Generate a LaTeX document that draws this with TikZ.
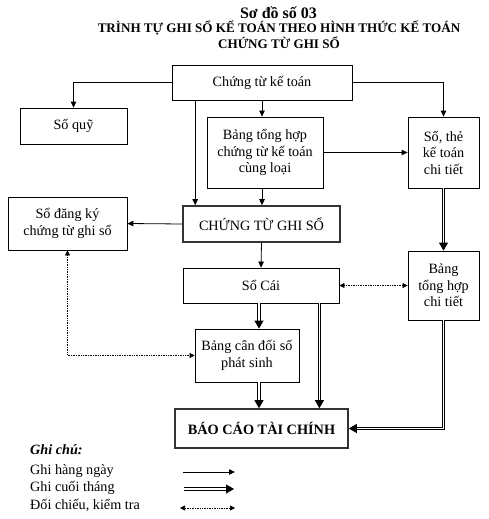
\documentclass[tikz,border=0pt]{standalone}
\usepackage{fontspec}
\setmainfont{Liberation Serif}
\usetikzlibrary{arrows.meta}

\begin{document}
\begin{tikzpicture}[x=1pt,y=-1pt,
  box/.style={draw,line width=0.8pt,align=center,inner sep=0pt,font=\fontsize{14.2}{16.5}\selectfont},
  mainbox/.style={box,line width=1.6pt,draw=black!80},
  arr/.style={line width=0.8pt,-{Triangle[length=6pt,width=5.5pt]}},
  dbl/.style={double,double distance=1.6pt,line width=0.8pt,-{Triangle[length=8pt,width=9pt]}},
  chk/.style={line width=0.7pt,densely dotted,{Triangle[length=5pt,width=5pt]}-{Triangle[length=5pt,width=5pt]}},
  legend/.style={anchor=west,inner sep=0pt,font=\fontsize{14.2}{16}\selectfont}]
\useasboundingbox (0,0) rectangle (489,519);
\node[font=\bfseries\fontsize{16}{18}\selectfont] (t1) at (278.5,13) {Sơ đồ số 03};
\node[font=\bfseries\fontsize{13.1}{15}\selectfont] (t2) at (279,28) {TRÌNH TỰ GHI SỔ KẾ TOÁN THEO HÌNH THỨC KẾ TOÁN};
\node[font=\bfseries\fontsize{13.1}{15}\selectfont] (t3) at (279,43) {CHỨNG TỪ GHI SỔ};
\node[box,minimum width=180,minimum height=35] (ctkt) at (262,82.5) {Chứng từ kế toán};
\node[box,minimum width=107,minimum height=36] (soquy) at (73.5,126) {Sổ quỹ};
\node[box,minimum width=116,minimum height=71] (bth) at (265,152.5) {Bảng tổng hợp\\chứng từ kế toán\\cùng loại};
\node[box,minimum width=71,minimum height=71] (sothe) at (443.5,152.5) {Sổ, thẻ\\kế toán\\chi tiết};
\node[box,minimum width=119,minimum height=53] (sodk) at (67.5,223.5) {Sổ đăng ký\\chứng từ ghi sổ};
\node[mainbox,minimum width=157,minimum height=36] (ctgs) at (261.5,224) {CHỨNG TỪ GHI SỔ};
\node[box,minimum width=156,minimum height=35] (socai) at (261,285.5) {Sổ Cái};
\node[box,minimum width=71,minimum height=69] (bthct) at (443.5,285.5) {Bảng\\tổng hợp\\chi tiết};
\node[box,minimum width=104,minimum height=53] (bcd) at (247,355.5) {Bảng cân đối số\\phát sinh};
\node[mainbox,minimum width=173,minimum height=39,font=\bfseries\fontsize{14.3}{16}\selectfont] (bctc) at (261.5,428.5) {BÁO CÁO TÀI CHÍNH};
\coordinate (c1) at ([xshift=13pt]ctgs.north west);
\coordinate (c2) at ([xshift=-2pt]socai.south);
\coordinate (c3) at ([xshift=-20pt]socai.south east);
\draw[arr] (ctkt.west) -| (soquy.north);
\draw[arr] (ctkt.east) -| (sothe.north);
\draw[arr] (ctkt.south) -- (ctkt.south |- bth.north);
\draw[arr] (ctkt.south -| c1) -- (c1);
\draw[arr] (ctkt.south |- bth.south) -- (ctkt.south |- ctgs.north);
\draw[arr] (bth.east) -- (sothe.west);
\draw[arr] (ctgs.west) -- (sodk.east);
\draw[arr] (ctgs.south) -- (socai.north);
\draw[dbl] (sothe.south) -- (bthct.north);
\draw[dbl] (c2) -- (c2 |- bcd.north);
\draw[dbl] (c2 |- bcd.south) -- (c2 |- bctc.north);
\draw[dbl] (c3) -- (c3 |- bctc.north);
\draw[dbl] (bthct.south) |- (bctc.east);
\draw[chk] (socai.east) -- (bthct.west);
\draw[chk] (sodk.south) |- (bcd.west);
\node[legend,font=\bfseries\itshape\fontsize{14.2}{16}\selectfont] (gc) at (30,450) {Ghi chú:};
\node[legend] (lg1) at (30,471) {Ghi hàng ngày};
\node[legend] (lg2) at (30,488) {Ghi cuối tháng};
\node[legend] (lg3) at (30,505) {Đối chiếu, kiểm tra};
\coordinate (a1) at (183,472);
\coordinate (b1) at (235,472);
\coordinate (a2) at (184,489);
\coordinate (b2) at (234,489);
\coordinate (a3) at (180,508);
\coordinate (b3) at (235,508);
\draw[arr] (a1) -- (b1);
\draw[dbl] (a2) -- (b2);
\draw[chk] (a3) -- (b3);
\end{tikzpicture}
\end{document}
